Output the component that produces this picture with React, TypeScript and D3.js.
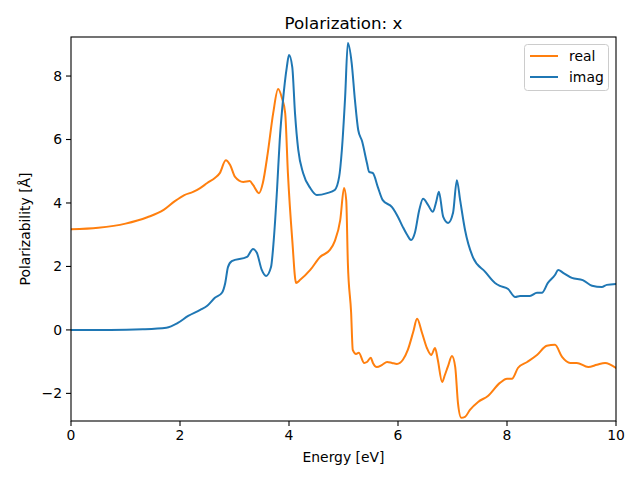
import React from "react";
import * as d3 from "d3";

const realX = [0, 0.5, 1.0, 1.4, 1.7, 1.9, 2.08, 2.24, 2.37, 2.5, 2.64, 2.73, 2.84, 2.92, 3.01, 3.16, 3.28, 3.34, 3.45, 3.52, 3.61, 3.71, 3.8, 3.87, 3.93, 3.98, 4.06, 4.13, 4.2, 4.39, 4.57, 4.75, 4.84, 4.94, 5.01, 5.05, 5.08, 5.14, 5.17, 5.23, 5.28, 5.38, 5.43, 5.5, 5.54, 5.61, 5.71, 5.8, 5.89, 5.98, 6.09, 6.18, 6.28, 6.35, 6.44, 6.53, 6.61, 6.68, 6.73, 6.81, 6.86, 6.92, 6.99, 7.05, 7.1, 7.16, 7.23, 7.32, 7.47, 7.65, 7.87, 8.0, 8.09, 8.2, 8.37, 8.55, 8.73, 8.88, 9.01, 9.16, 9.28, 9.49, 9.65, 9.8, 10.0];
const realY = [3.17, 3.22, 3.35, 3.55, 3.78, 4.05, 4.25, 4.35, 4.47, 4.63, 4.79, 4.94, 5.35, 5.2, 4.82, 4.66, 4.69, 4.57, 4.31, 4.63, 5.57, 6.83, 7.59, 7.31, 6.83, 4.94, 2.83, 1.48, 1.57, 1.89, 2.3, 2.52, 2.8, 3.46, 4.47, 4.09, 2.11, 0.54, -0.63, -0.76, -0.72, -1.04, -1.01, -0.88, -1.04, -1.17, -1.1, -1.01, -1.04, -1.07, -0.94, -0.63, -0.06, 0.35, -0.09, -0.57, -0.79, -0.57, -0.94, -1.64, -1.42, -1.13, -0.82, -1.17, -2.3, -2.77, -2.74, -2.52, -2.27, -2.08, -1.67, -1.54, -1.54, -1.2, -1.01, -0.79, -0.5, -0.47, -0.85, -1.04, -1.04, -1.17, -1.1, -1.04, -1.2];

const imagX = [0, 0.72, 1.32, 1.75, 1.96, 2.15, 2.37, 2.5, 2.64, 2.77, 2.83, 2.88, 2.95, 3.23, 3.34, 3.41, 3.5, 3.58, 3.67, 3.72, 3.78, 3.83, 3.89, 3.96, 4.0, 4.06, 4.11, 4.17, 4.26, 4.39, 4.51, 4.7, 4.84, 4.92, 4.97, 5.03, 5.08, 5.15, 5.21, 5.27, 5.34, 5.43, 5.47, 5.54, 5.63, 5.72, 5.89, 6.0, 6.09, 6.17, 6.24, 6.31, 6.39, 6.46, 6.55, 6.64, 6.7, 6.75, 6.83, 6.92, 7.01, 7.08, 7.14, 7.23, 7.38, 7.6, 7.78, 7.87, 8.02, 8.15, 8.24, 8.42, 8.55, 8.64, 8.75, 8.88, 8.94, 9.03, 9.19, 9.39, 9.56, 9.74, 9.83, 10.0];
const imagY = [0.0, 0.0, 0.02, 0.07, 0.22, 0.44, 0.63, 0.76, 1.01, 1.17, 1.48, 1.98, 2.17, 2.3, 2.55, 2.43, 1.89, 1.7, 1.98, 2.83, 4.41, 5.98, 7.24, 8.28, 8.66, 8.28, 6.83, 5.67, 4.94, 4.47, 4.25, 4.31, 4.41, 4.82, 5.67, 7.34, 9.04, 8.41, 7.24, 6.3, 5.95, 5.26, 4.98, 4.94, 4.5, 4.09, 3.87, 3.56, 3.24, 2.99, 2.83, 3.06, 3.78, 4.13, 3.94, 3.72, 4.03, 4.35, 3.56, 3.37, 3.69, 4.72, 4.09, 3.15, 2.27, 1.83, 1.48, 1.39, 1.29, 1.04, 1.07, 1.07, 1.17, 1.17, 1.48, 1.73, 1.89, 1.8, 1.64, 1.57, 1.39, 1.35, 1.42, 1.45];

const xTicks = [0, 2, 4, 6, 8, 10];
const yTicks = [-2, 0, 2, 4, 6, 8];
const seriesNames = ["real", "imag"];
const seriesColors = ["#ff7f0e", "#1f77b4"];

const W = 640, H = 480;
const L = 71, R = 616, T = 37, B = 421;
const FONT = "DejaVu Sans, sans-serif";

export default function App() {
  const x = d3.scaleLinear().domain([0, 10]).range([L, R]);
  const y = d3.scaleLinear().domain([-2.87, 9.23]).range([B, T]);
  const line = d3
    .line<[number, number]>()
    .x((d) => x(d[0]))
    .y((d) => y(d[1]))
    .curve(d3.curveMonotoneX);
  const realData = realX.map((v, i) => [v, realY[i]] as [number, number]);
  const imagData = imagX.map((v, i) => [v, imagY[i]] as [number, number]);
  const fmt = (v: number) => (v < 0 ? "\u2212" + Math.abs(v) : String(v));

  return (
    <svg width={W} height={H} style={{ position: "absolute", left: 0, top: 0, background: "#fff" }} fontFamily={FONT}>
      <rect x={0} y={0} width={W} height={H} fill="#fff" />
      <defs>
        <clipPath id="clip">
          <rect x={L} y={T} width={R - L} height={B - T} />
        </clipPath>
      </defs>
      <g clipPath="url(#clip)" fill="none" strokeWidth={2} strokeLinejoin="round" strokeLinecap="square">
        <path d={line(realData) || ""} stroke={seriesColors[0]} />
        <path d={line(imagData) || ""} stroke={seriesColors[1]} />
      </g>
      <rect x={L} y={T} width={R - L} height={B - T} fill="none" stroke="#000" strokeWidth={1.1} />
      {xTicks.map((t) => (
        <g key={"x" + t}>
          <line x1={x(t)} x2={x(t)} y1={B} y2={B + 5} stroke="#000" strokeWidth={1.1} />
          <text x={x(t)} y={B + 19} fontSize={13.9} textAnchor="middle" fill="#000">
            {fmt(t)}
          </text>
        </g>
      ))}
      {yTicks.map((t) => (
        <g key={"y" + t}>
          <line x1={L - 5} x2={L} y1={y(t)} y2={y(t)} stroke="#000" strokeWidth={1.1} />
          <text x={L - 9} y={y(t)} dy="0.35em" fontSize={13.9} textAnchor="end" fill="#000">
            {fmt(t)}
          </text>
        </g>
      ))}
      <text x={(L + R) / 2} y={462} fontSize={13.9} textAnchor="middle" fill="#000">
        Energy [eV]
      </text>
      <text transform={`translate(30, ${(T + B) / 2}) rotate(-90)`} fontSize={13.9} textAnchor="middle" fill="#000">
        Polarizability [Å]
      </text>
      <text x={(L + R) / 2} y={29} fontSize={16.7} textAnchor="middle" fill="#000">
        Polarization: x
      </text>
      <g>
        <rect x={524.5} y={44.5} width={84} height={46} rx={3} fill="#fff" fillOpacity={0.8} stroke="#cccccc" strokeWidth={1} />
        {seriesNames.map((n, i) => (
          <g key={n}>
            <line x1={530} x2={558} y1={56 + i * 21} y2={56 + i * 21} stroke={seriesColors[i]} strokeWidth={2} />
            <text x={569} y={56 + i * 21} dy="0.35em" fontSize={13.9} fill="#000">
              {n}
            </text>
          </g>
        ))}
      </g>
    </svg>
  );
}
